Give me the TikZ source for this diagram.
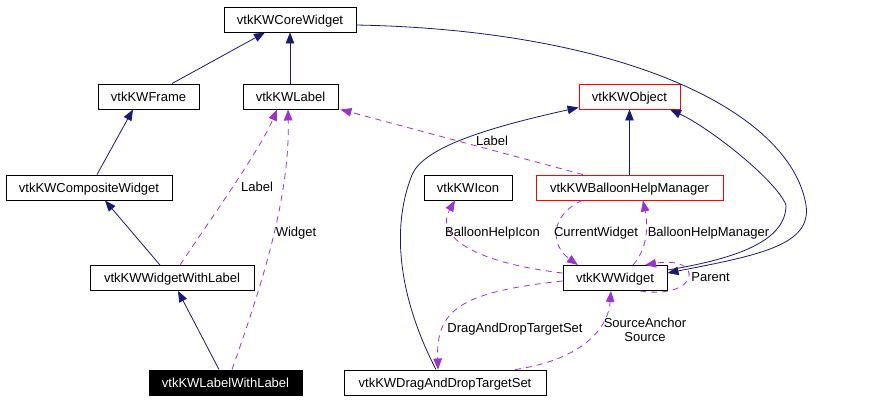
\documentclass[tikz,border=0pt]{standalone}
\usepackage{fontspec}
\setmainfont{Liberation Sans}
\usetikzlibrary{arrows.meta}
\definecolor{navy}{HTML}{191970}
\definecolor{orchid}{HTML}{9A32CD}
\tikzset{
  cls/.style={draw=black, fill=white, line width=0.9pt, minimum height=25pt, inner sep=0pt, text height=9.6pt, text depth=0pt, font=\fontsize{13}{15}\selectfont},
  redcls/.style={cls, draw=red},
  curcls/.style={cls, fill=black, text=white},
  inh/.style={draw=navy, line width=0.8pt, -{Triangle[length=11pt,width=8.5pt]}, color=navy},
  use/.style={draw=orchid, line width=0.8pt, dash pattern=on 6pt off 5pt, -{Triangle[length=11pt,width=8.5pt]}, color=orchid},
  lbl/.style={inner sep=0pt, font=\fontsize{13}{14}\selectfont, align=center},
  lbl1/.style={lbl, text height=9.6pt, text depth=0pt}
}
\begin{document}
\begin{tikzpicture}[x=1pt,y=-1pt]
\useasboundingbox (0,0) rectangle (891,400);
% nodes
\node[cls, minimum width=132pt] (core) at (290,19.5) {vtkKWCoreWidget};
\node[cls, minimum width=101pt] (frame) at (148.5,96.5) {vtkKWFrame};
\node[cls, minimum width=95pt] (label) at (290.5,96.5) {vtkKWLabel};
\node[cls, minimum width=166pt] (composite) at (89,187.5) {vtkKWCompositeWidget};
\node[cls, minimum width=164pt] (wwl) at (172,278) {vtkKWWidgetWithLabel};
\node[curcls, minimum width=153pt] (lwl) at (225.5,382.5) {vtkKWLabelWithLabel};
\node[cls, minimum width=202pt] (dnd) at (445,382.5) {vtkKWDragAndDropTargetSet};
\node[redcls, minimum width=101pt] (object) at (629.5,96.5) {vtkKWObject};
\node[cls, minimum width=88pt] (icon) at (468,187.5) {vtkKWIcon};
\node[redcls, minimum width=187pt] (bhm) at (629.5,187.5) {vtkKWBalloonHelpManager};
\node[cls, minimum width=104pt] (widget) at (615,278) {vtkKWWidget};
% inheritance
\draw[inh] ([xshift=23.5pt]frame.north) -- ([xshift=-25pt]core.south);
\draw[inh] ([xshift=-0.5pt]label.north) -- (core.south);
\draw[inh] ([xshift=8pt]composite.north) -- ([xshift=-15.5pt]frame.south);
\draw[inh] ([xshift=-12pt]wwl.north) -- ([xshift=16pt]composite.south);
\draw[inh] ([xshift=-6.5pt]lwl.north) -- ([xshift=6pt]wwl.south);
\draw[inh] (bhm.north) -- (object.south);
\draw[inh] ([yshift=-5.5pt]core.east) .. controls (620,30) and (790,110) .. (806,205)
  .. controls (812,245) and (760,255) .. ([yshift=5pt]widget.east);
\draw[inh] ([yshift=8pt]widget.east) .. controls (740,258) and (786,240) .. (786,205)
  .. controls (776,180) and (710,128) .. ([xshift=40.5pt]object.south);
\draw[inh] ([xshift=-9pt]dnd.north) .. controls (400,300) and (390,230) .. (412,175)
  .. controls (424,145) and (500,125) .. ([yshift=2pt]object.south west);
% usage
\draw[use] ([xshift=8pt]wwl.north) .. controls (210,220) and (260,150) .. ([xshift=-13.5pt]label.south);
\draw[use] ([xshift=6.5pt]lwl.north) .. controls (260,290) and (290,200) .. ([xshift=-2.5pt]label.south);
\draw[use] ([xshift=-46.5pt]bhm.north) -- ([xshift=2pt]label.south east);
\draw[use] ([yshift=5pt]widget.west) .. controls (470,262) and (435,235) .. ([xshift=-13pt]icon.south);
\draw[use] ([xshift=-47.5pt]bhm.south) .. controls (550,215) and (550,245) .. ([xshift=-37pt]widget.north);
\draw[use] ([xshift=18pt]widget.north) .. controls (648,248) and (648,225) .. ([xshift=13.5pt]bhm.south);
\draw[use] ([xshift=25pt]widget.south) .. controls (700,300) and (705,255) .. ([xshift=30pt]widget.north);
\draw[use] ([yshift=-3pt]widget.west) .. controls (460,292) and (436,310) .. ([xshift=-7pt]dnd.north);
\draw[use] ([xshift=70pt]dnd.north) .. controls (580,360) and (608,330) .. ([xshift=-4pt]widget.south);
% edge labels
\node[lbl1] (lLabelA) at (257,186.5) {Label};
\node[lbl1] (lWidget) at (296,232) {Widget};
\node[lbl1] (lLabelB) at (492,141) {Label};
\node[lbl1] (lIcon) at (492.5,232) {BalloonHelpIcon};
\node[lbl1] (lCur) at (596,232) {CurrentWidget};
\node[lbl1] (lBhm) at (708.5,232) {BalloonHelpManager};
\node[lbl1] (lParent) at (710.5,277) {Parent};
\node[lbl1] (lDnd) at (515,328) {DragAndDropTargetSet};
\node[lbl] (lSrc) at (645,329.5) {SourceAnchor\\Source};
\end{tikzpicture}
\end{document}
